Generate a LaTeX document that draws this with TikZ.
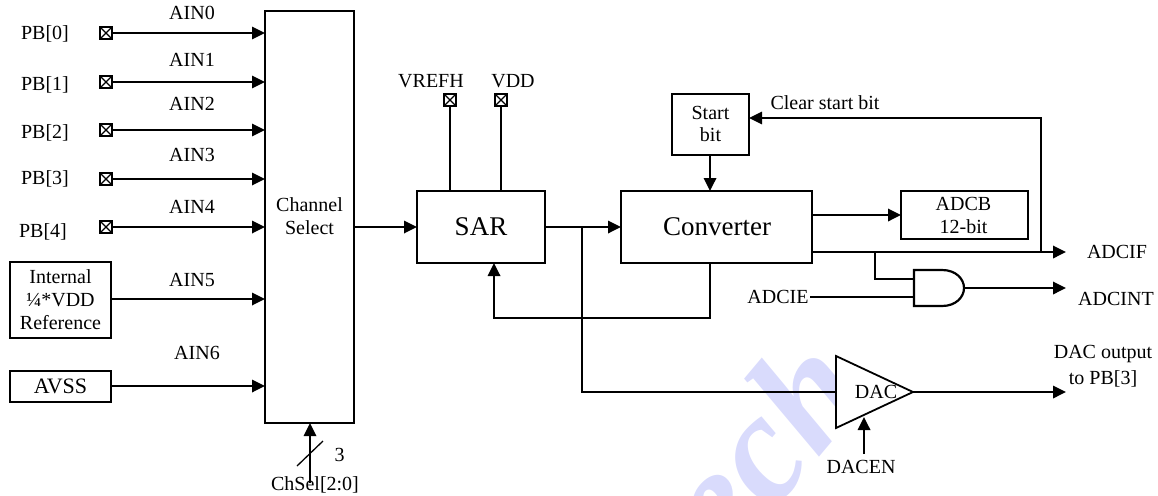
\documentclass[tikz,border=0pt]{standalone}
\usepackage{fontspec}
\setmainfont{Liberation Serif}
\usetikzlibrary{arrows.meta,calc}
\definecolor{wmark}{RGB}{217,219,252}
\tikzset{
  x=1pt,y=-1pt,
  block/.style={draw,line width=1.8pt,rectangle,inner sep=0pt,outer sep=0pt,anchor=north west,align=center},
  lab/.style={inner sep=0pt,font=\fontsize{20}{23}\selectfont,align=center},
  biglab/.style={inner sep=0pt,font=\fontsize{27}{30}\selectfont},
  wire/.style={line width=1.8pt},
  conn/.style={line width=1.8pt,-{Triangle[length=13pt,width=12.5pt]}},
  pinbox/.style={draw,line width=1.8pt,minimum size=12pt,inner sep=0pt,outer sep=0pt,
    path picture={\draw[line width=1.4pt] (path picture bounding box.north west)--(path picture bounding box.south east)
      (path picture bounding box.north east)--(path picture bounding box.south west);}},
}
\newcommand{\bx}[6]{\node[block,minimum width=#4pt-#2pt,minimum height=#5pt-#3pt] (#1) at (#2,#3) {#6};}
\begin{document}
\begin{tikzpicture}
\useasboundingbox (0,0) rectangle (1158,495);
% watermark
\begin{scope}
\clip (0,0) rectangle (1158,495);
\node[inner sep=0pt,rotate=50,text=wmark,font=\fontsize{155}{155}\bfseries\itshape\selectfont] (wm) at (746,462) {tech};
\end{scope}
% boxes
\bx{chan}{265}{11}{354}{423}{}
\node[lab] (chanlab) at (309.5,216) {Channel\\[0pt]Select};
\bx{sar}{417}{191}{545}{263}{}
\node[biglab] (sarlab) at (481,227) {SAR};
\bx{conv}{621}{191}{812}{263}{}
\node[biglab] (convlab) at (717,227) {Converter};
\bx{start}{672}{94}{749}{155}{}
\node[lab] (startlab) at (710.5,124) {Start\\[-1pt]bit};
\bx{adcb}{901}{191}{1028}{239}{}
\node[lab] (adcblab) at (963.5,215) {ADCB\\[0pt]12-bit};
\bx{intref}{10}{262}{111}{338}{}
\node[lab] (intlab) at (60.5,300) {Internal\\[0pt]¼*VDD\\[0pt]Reference};
\bx{avss}{10}{371}{111}{402}{}
\node[lab,font=\fontsize{22}{23}\selectfont] (avsslab) at (60.5,386) {AVSS};
% pins
\foreach \n/\y in {0/33,1/82,2/130,3/179,4/227}{
  \node[pinbox] (p\n) at (106,\y) {};
  \coordinate (c\n) at (chan.west |- p\n);
  \draw[conn] (p\n) -- (c\n);
}
\foreach \n/\y in {0/34,1/85,2/133,3/179}{
  \node[lab] (pbl\n) at (45,\y) {PB[\n]};
}
\node[lab] (pbl4) at (43,232) {PB[4]};
\foreach \n/\y in {0/13,1/60,2/104,3/155,4/207}{
  \node[lab] (ain\n) at (192,\y) {AIN\n};
}
\node[lab] (ain5) at (192,280) {AIN5};
\node[lab] (ain6) at (197,353) {AIN6};
\coordinate (c5) at (chan.west |- 0,299);
\coordinate (c6) at (chan.west |- 0,386);
\draw[conn] (intref.east |- c5) -- (c5);
\draw[conn] (avss.east |- c6) -- (c6);
% chsel
\coordinate (chb) at (310,483);
\draw[conn] (chb) -- (chb |- chan.south);
\coordinate (s1) at (297,466); \coordinate (s2) at (323,441);
\draw[line width=1.3pt] (s1) -- (s2);
\node[lab] (three) at (339.5,455) {3};
\node[lab] (chsel) at (315,485) {ChSel[2:0]};
% chan -> sar
\draw[conn] (chan.east |- 0,227) -- (sar.west |- 0,227);
% refs
\node[pinbox] (vrefp) at (450,100) {};
\node[pinbox] (vddp) at (501,100) {};
\draw[line width=2.4pt] (vrefp) -- (vrefp |- sar.north);
\draw[wire] (vddp) -- (vddp |- sar.north);
\node[lab] (vrefl) at (431,81) {VREFH};
\node[lab] (vddl) at (513,81) {VDD};
% SAR -> conv and DAC branch
\draw[conn] (sar.east |- 0,227) -- (conv.west |- 0,227);
\coordinate (br) at (582,227);
\coordinate (dacin) at (836,392);
\draw[wire,line join=miter] (br) -- (br |- dacin) -- (dacin);
% DAC triangle
\coordinate (dact) at (836,356); \coordinate (dacb) at (836,428); \coordinate (dactip) at (913,392);
\draw[line width=1.8pt,fill=white,line join=miter] (dact) -- (dactip) -- (dacb) -- cycle;
\node[lab] (daclab) at (876,392) {DAC};
\coordinate (dacout) at (1066,392);
\draw[conn] (dactip) -- (dacout);
\node[lab] (dacoutl) at (1103,366) {DAC output\\[3pt]to PB[3]};
\node[lab] (dacen) at (861,467) {DACEN};
\coordinate (denb) at (864,454); \coordinate (dent) at (864,417);
\draw[conn] (denb) -- (dent);
% conv -> sar feedback
\coordinate (fb1) at (710,263); \coordinate (fb2) at (710,318); \coordinate (fb3) at (494,318); \coordinate (fb4) at (494,263);
\draw[conn] (fb1) -- (fb2) -- (fb3) -- (fb4);
% start
\draw[conn] (start.south -| fb1) -- (conv.north -| fb1);
\coordinate (cl1) at (1041,252); \coordinate (cl2) at (1041,118);
\draw[conn] (cl1) -- (cl2) -- (start.east |- cl2);
\node[lab] (clearl) at (825,103) {Clear start bit};
% ADCB
\draw[conn] (conv.east |- 0,215) -- (adcb.west |- 0,215);
% ADCIF
\coordinate (ifend) at (1066,252);
\draw[conn] (conv.east |- ifend) -- (ifend);
\node[lab] (adcif) at (1117,252) {ADCIF};
% AND gate
\coordinate (andtl) at (914,270); \coordinate (andbl) at (914,306); \coordinate (andout) at (964,288);
\draw[line width=2.2pt,fill=white,line join=miter] (andtl) -- (942,270) .. controls (956,270) and (964,279) .. (andout) .. controls (964,297) and (956,306) .. (942,306) -- (andbl) -- cycle;
\coordinate (brand) at (875,252); \coordinate (andin1) at (914,279); \coordinate (andin2) at (914,297);
\draw[wire] (brand) -- (brand |- andin1) -- (andin1);
\node[lab] (adcie) at (778,297) {ADCIE};
\draw[wire] (810,297) -- (andin2);
\coordinate (intend) at (1066,288);
\draw[conn] (andout) -- (intend);
\node[lab] (adcint) at (1116,299) {ADCINT};
\end{tikzpicture}
\end{document}
